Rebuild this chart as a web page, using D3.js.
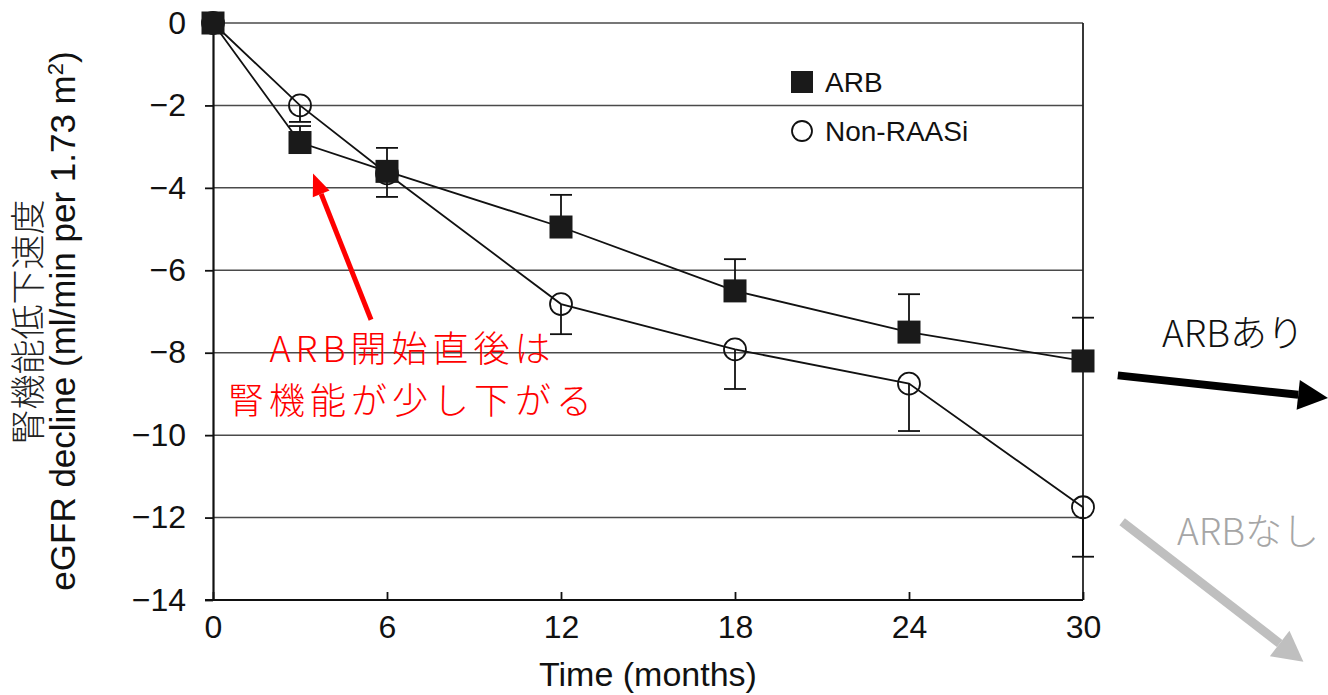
<!DOCTYPE html>
<html>
<head>
<meta charset="utf-8">
<script src="https://cdn.jsdelivr.net/npm/d3@7"></script>
<style>
  body { margin: 0; background: #fff; }
  svg { display: block; }
  .note {
    font-family: "Noto Sans CJK JP", "Noto Sans", sans-serif;
    font-weight: 300;
    font-size: 36px;
    line-height: 52px;
    letter-spacing: 5px;
    padding-left: 5px;
    color: #ff0000;
    text-align: center;
    margin: 0;
  }
</style>
</head>
<body>
<div id="chart"></div>
<script>
// values (eGFR decline, ml/min per 1.73 m2)
const months = [0, 3, 6, 12, 18, 24, 30];
const arbValues = [0, -2.9, -3.6, -4.95, -6.5, -7.5, -8.2];
const arbErrTop = [null, -2.5, -3.03, -4.17, -5.73, -6.58, -7.15];
const nonRaasiValues = [0, -2.0, -3.65, -6.82, -7.92, -8.75, -11.75];
const nonRaasiErrBottom = [null, -2.4, -4.22, -7.55, -8.88, -9.9, -12.95];
const xTicks = [0, 6, 12, 18, 24, 30];
const yTicks = [0, -2, -4, -6, -8, -10, -12, -14];
const seriesNames = ['ARB', 'Non-RAASi'];
const noteLines = ['ARB開始直後は', '腎機能が少し下がる'];

const W = 1328, H = 695;
const latin = '"Liberation Sans", Arial, Helvetica, sans-serif';
const cjk = '"Noto Sans CJK JP", "Noto Sans", sans-serif';

const svg = d3.select('#chart').append('svg')
  .attr('width', W)
  .attr('height', H);

const x = d3.scaleLinear().domain([0, 30]).range([213, 1083]);
const y = d3.scaleLinear().domain([0, -14]).range([23, 600]);

// grid lines
svg.append('g')
  .selectAll('line')
  .data(yTicks.filter(d => d > -14))
  .enter().append('line')
  .attr('x1', x(0)).attr('x2', x(30))
  .attr('y1', d => y(d)).attr('y2', d => y(d))
  .attr('stroke', '#4a4a4a')
  .attr('stroke-width', 1.5);

// right border
svg.append('line')
  .attr('x1', x(30)).attr('x2', x(30))
  .attr('y1', y(0)).attr('y2', y(-14))
  .attr('stroke', '#222')
  .attr('stroke-width', 1.8);

const yAxis = svg.append('g')
  .attr('transform', 'translate(' + x(0) + ',0)')
  .call(d3.axisLeft(y).tickValues(yTicks).tickSizeInner(8).tickSizeOuter(0).tickPadding(19));

const xAxis = svg.append('g')
  .attr('transform', 'translate(0,' + y(-14) + ')')
  .call(d3.axisBottom(x).tickValues(xTicks).tickSizeInner(-8).tickSizeOuter(0).tickPadding(15));

[yAxis, xAxis].forEach(a => {
  a.select('.domain').attr('stroke', '#111').attr('stroke-width', 2.2);
  a.selectAll('.tick line').attr('stroke', '#111').attr('stroke-width', 1.8);
  a.selectAll('.tick text')
    .attr('fill', '#111')
    .style('font-family', latin)
    .style('font-size', '32px');
});
// bottom axis reaches a little left of the y axis
xAxis.select('.domain').attr('d', 'M' + (x(0) - 8) + ',0H' + x(30));

// series lines
const arbData = months.map((m, i) => ({ m: m, v: arbValues[i], e: arbErrTop[i] }));
const nonData = months.map((m, i) => ({ m: m, v: nonRaasiValues[i], e: nonRaasiErrBottom[i] }));

const line = d3.line().x(d => x(d.m)).y(d => y(d.v));

[arbData, nonData].forEach(data => {
  svg.append('path')
    .datum(data)
    .attr('d', line)
    .attr('fill', 'none')
    .attr('stroke', '#111')
    .attr('stroke-width', 1.8);

  const eb = svg.append('g').selectAll('g')
    .data(data.filter(d => d.e !== null))
    .enter().append('g')
    .attr('stroke', '#111')
    .attr('stroke-width', 1.8);
  eb.append('line')
    .attr('x1', d => x(d.m)).attr('x2', d => x(d.m))
    .attr('y1', d => y(d.v)).attr('y2', d => y(d.e));
  eb.append('line')
    .attr('x1', d => x(d.m) - 11).attr('x2', d => x(d.m) + 11)
    .attr('y1', d => y(d.e)).attr('y2', d => y(d.e));
});

// markers
svg.append('g').selectAll('circle')
  .data(nonData)
  .enter().append('circle')
  .attr('cx', d => x(d.m))
  .attr('cy', d => y(d.v))
  .attr('r', 11)
  .attr('fill', 'none')
  .attr('stroke', '#111')
  .attr('stroke-width', 1.8);

svg.append('g').selectAll('rect')
  .data(arbData)
  .enter().append('rect')
  .attr('x', d => x(d.m) - 11.5)
  .attr('y', d => y(d.v) - 11.5)
  .attr('width', 23)
  .attr('height', 23)
  .attr('fill', '#1a1a1a');

// legend
const legend = svg.append('g').attr('transform', 'translate(802,82)');
legend.append('rect')
  .attr('x', -11).attr('y', -11).attr('width', 22).attr('height', 22)
  .attr('fill', '#1a1a1a');
legend.append('circle')
  .attr('cx', 0).attr('cy', 49).attr('r', 10)
  .attr('fill', 'none').attr('stroke', '#111').attr('stroke-width', 1.8);
legend.selectAll('text')
  .data(seriesNames)
  .enter().append('text')
  .attr('x', 23)
  .attr('y', (d, i) => 10 + i * 49)
  .attr('fill', '#111')
  .style('font-family', latin)
  .style('font-size', '28px')
  .text(d => d);

// axis titles
svg.append('text')
  .attr('x', (x(0) + x(30)) / 2)
  .attr('y', 686)
  .attr('text-anchor', 'middle')
  .attr('fill', '#111')
  .style('font-family', latin)
  .style('font-size', '34px')
  .text('Time (months)');

const yTitle = svg.append('text')
  .attr('transform', 'translate(75,321) rotate(-90)')
  .attr('text-anchor', 'middle')
  .attr('fill', '#111')
  .style('font-family', latin)
  .style('font-size', '35px');
yTitle.append('tspan').text('eGFR decline (ml/min per 1.73 m');
yTitle.append('tspan').attr('baseline-shift', 'super').style('font-size', '22px').text('2');
yTitle.append('tspan').text(')');

svg.append('text')
  .attr('transform', 'translate(28,322) rotate(-90)')
  .attr('text-anchor', 'middle')
  .attr('dy', '0.38em')
  .attr('fill', '#222')
  .style('font-family', cjk)
  .style('font-weight', 300)
  .style('font-size', '35px')
  .text('腎機能低下速度');

// annotations
function arrow(from, to, color, width, headLen, headW) {
  const x1 = x(from[0]), y1 = y(from[1]), x2 = x(to[0]), y2 = y(to[1]);
  const a = Math.atan2(y2 - y1, x2 - x1);
  const bx = x2 - headLen * Math.cos(a), by = y2 - headLen * Math.sin(a);
  svg.append('line')
    .attr('x1', x1).attr('y1', y1).attr('x2', bx).attr('y2', by)
    .attr('stroke', color).attr('stroke-width', width);
  const px = Math.sin(a) * headW / 2, py = -Math.cos(a) * headW / 2;
  svg.append('path')
    .attr('d', 'M' + x2 + ',' + y2 + 'L' + (bx + px) + ',' + (by + py) + 'L' + (bx - px) + ',' + (by - py) + 'Z')
    .attr('fill', color);
}

arrow([5.45, -7.2], [3.45, -3.65], '#ff0000', 5, 22, 18);
arrow([31.2, -8.55], [38.45, -9.1], '#000', 8, 30, 30);
arrow([31.35, -12.1], [37.6, -15.5], '#bfbfbf', 9, 30, 32);

// red note, two lines in one html block
svg.append('foreignObject')
  .attr('x', 110).attr('y', 320)
  .attr('width', 600).attr('height', 110)
  .append('xhtml:div')
  .attr('class', 'note')
  .html(noteLines.join('<br>'));

svg.append('text')
  .attr('x', 1162).attr('y', 347)
  .attr('fill', '#111')
  .style('font-family', cjk)
  .style('font-weight', 300)
  .style('font-size', '37px')
  .text('ARBあり');

svg.append('text')
  .attr('x', 1177).attr('y', 545)
  .attr('fill', '#a6a6a6')
  .style('font-family', cjk)
  .style('font-weight', 300)
  .style('font-size', '37px')
  .text('ARBなし');
</script>
</body>
</html>
